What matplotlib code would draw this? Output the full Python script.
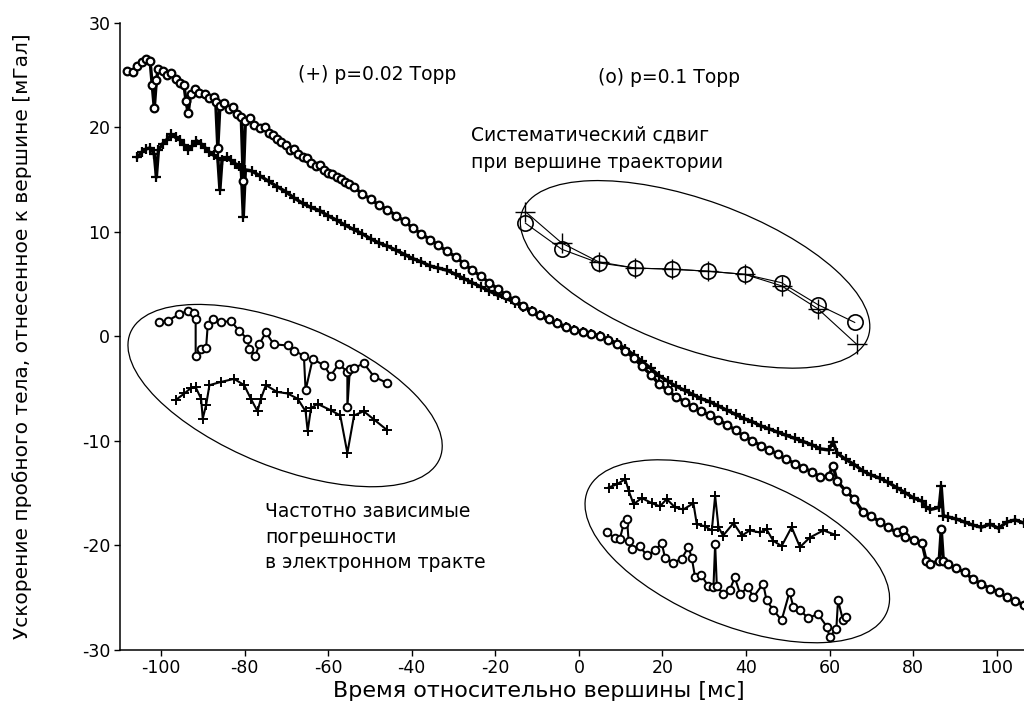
import numpy as np
import matplotlib
matplotlib.use('Agg')
import matplotlib.pyplot as plt
import matplotlib.transforms as mtransforms
from matplotlib.patches import Ellipse

plt.rcParams['font.family'] = ['DejaVu Sans']
plt.rcParams['axes.unicode_minus'] = False

# main curve, p=0.1 Torr (circles)
o_x = [-108.2, -106.7, -105.7, -104.6, -103.6, -102.6, -102.1, -101.6, -101.1, -100.6, -99.6, -98.6, -97.5,
       -96.5, -95.5, -94.5, -94.0, -93.5, -92.9, -91.9, -90.9, -89.4, -88.4, -87.4, -86.9, -86.4, -85.9,
       -84.9, -83.8, -82.8, -81.8, -80.8, -80.3, -79.8, -78.8, -77.7, -76.2, -75.2, -74.2, -73.2, -72.2,
       -71.2, -70.1, -69.1, -68.1, -67.1, -66.1, -65.1, -64.1, -63.0, -62.0, -61.0, -60.0, -59.0, -58.0,
       -56.9, -55.9, -54.9, -53.9, -51.9, -49.8, -47.8, -45.8, -43.7, -41.7, -39.7, -37.7, -35.6, -33.6,
       -31.6, -29.5, -27.5, -25.5, -23.4, -21.4, -19.4, -17.4, -15.3, -13.3, -11.3, -9.2, -7.2, -5.2, -3.2,
       -1.1, 0.9, 2.9, 5.0, 7.0, 9.0, 11.1, 13.1, 15.1, 17.2, 19.2, 21.2, 23.2, 25.3, 27.3, 29.3, 31.4,
       33.4, 35.4, 37.5, 39.5, 41.5, 43.5, 45.6, 47.6, 49.6, 51.7, 53.7, 55.7, 57.8, 59.8, 60.8, 61.8,
       63.8, 65.9, 67.9, 69.9, 72.0, 74.0, 76.0, 77.5, 78.1, 80.1, 82.1, 83.1, 84.1, 86.2, 86.7, 87.2,
       88.2, 90.2, 92.3, 94.3, 96.3, 98.4, 100.4, 102.4, 104.4, 106.5, 108.5]
o_y = [25.4, 25.3, 25.8, 26.2, 26.5, 26.3, 24.0, 21.8, 24.5, 25.6, 25.4, 25.0, 25.2,
       24.6, 24.2, 24.0, 22.5, 21.3, 23.2, 23.6, 23.3, 23.2, 22.8, 22.9, 22.4, 18.0, 22.0,
       22.3, 21.7, 21.9, 21.2, 21.0, 14.8, 20.6, 20.9, 20.2, 19.9, 20.0, 19.4, 19.2, 18.9,
       18.6, 18.3, 17.8, 17.9, 17.4, 17.1, 17.0, 16.6, 16.3, 16.4, 15.9, 15.6, 15.5, 15.2,
       15.0, 14.7, 14.5, 14.3, 13.6, 13.1, 12.5, 12.1, 11.5, 11.0, 10.3, 9.8, 9.2, 8.7,
       8.1, 7.6, 6.9, 6.3, 5.7, 5.1, 4.5, 3.9, 3.4, 2.9, 2.4, 2.0, 1.6, 1.2, 0.9,
       0.6, 0.35, 0.2, 0.0, -0.4, -0.8, -1.4, -2.1, -2.9, -3.7, -4.6, -5.2, -5.8, -6.3, -6.8, -7.2, -7.6,
       -8.0, -8.5, -9.0, -9.6, -10.0, -10.5, -10.9, -11.3, -11.8, -12.2, -12.6, -13.0, -13.5, -13.4, -12.4, -13.9,
       -14.8, -15.6, -16.8, -17.2, -17.8, -18.3, -18.8, -18.6, -19.2, -19.5, -19.8, -21.5, -21.8, -21.5, -18.5, -21.5,
       -21.8, -22.2, -22.6, -23.3, -23.7, -24.2, -24.5, -25.0, -25.4, -25.7, -25.3]

# main curve, p=0.02 Torr (plus)
p_x = [-105.7, -104.6, -103.6, -102.6, -101.6, -101.1, -100.6, -99.6, -98.6, -97.5, -96.5, -95.5, -94.5,
       -93.5, -92.5, -91.5, -90.4, -89.4, -88.4, -87.4, -86.4, -85.9, -85.4, -84.3, -83.3, -82.3, -81.3,
       -80.8, -80.3, -79.8, -78.3, -76.2, -74.2, -72.2, -70.1, -68.1, -66.1, -64.1, -62.0, -60.0, -58.0,
       -55.9, -53.9, -51.9, -49.8, -47.8, -45.8, -43.7, -41.7, -39.7, -37.7, -35.6, -33.6, -31.6, -29.5,
       -27.5, -25.5, -23.4, -21.4, -19.4, -17.4, -15.3, -13.3, -11.3, -9.2, -7.2, -5.2, -3.2, -1.1, 0.9,
       2.9, 5.0, 7.0, 9.0, 11.1, 13.1, 15.1, 17.2, 19.2, 21.2, 23.2, 25.3, 27.3, 29.3, 31.4, 33.4, 35.4,
       37.5, 39.5, 41.5, 43.5, 45.6, 47.6, 49.6, 51.7, 53.7, 55.7, 57.8, 59.8, 60.8, 61.8, 63.8, 65.9,
       67.9, 69.9, 72.0, 74.0, 76.0, 78.1, 80.1, 82.1, 83.1, 84.1, 86.2, 86.7, 87.2, 88.2, 90.2, 92.3,
       94.3, 96.3, 98.4, 100.4, 102.4, 104.4, 106.5, 108.5]
p_y = [17.1, 17.6, 17.9, 18.0, 17.4, 15.2, 17.8, 18.4, 18.8, 19.3, 19.0, 18.8, 18.3,
       17.8, 18.2, 18.7, 18.4, 18.0, 17.6, 17.3, 17.0, 14.0, 16.8, 17.1, 16.8, 16.5, 16.3,
       16.1, 11.4, 15.9, 15.8, 15.3, 14.8, 14.3, 13.8, 13.2, 12.7, 12.3, 12.0, 11.5, 11.1,
       10.6, 10.2, 9.8, 9.3, 8.9, 8.6, 8.2, 7.8, 7.4, 7.1, 6.7, 6.5, 6.3, 5.9,
       5.5, 5.1, 4.7, 4.3, 3.9, 3.6, 3.2, 2.8, 2.4, 2.0, 1.6, 1.2, 0.9, 0.6, 0.35,
       0.2, 0.0, -0.3, -0.7, -1.2, -1.8, -2.4, -3.1, -3.8, -4.3, -4.8, -5.2, -5.6, -6.0, -6.3, -6.7, -7.1,
       -7.5, -7.9, -8.2, -8.6, -8.9, -9.2, -9.5, -9.8, -10.1, -10.4, -10.8, -10.9, -10.1, -11.2, -11.8, -12.3,
       -12.9, -13.3, -13.6, -14.0, -14.5, -15.0, -15.5, -15.8, -16.4, -16.6, -16.4, -14.4, -17.2, -17.3, -17.5, -17.8,
       -18.1, -18.3, -18.0, -18.4, -17.8, -17.6, -17.9, -17.8]

# inset: systematic shift near the apex
apex_o_x = [-12.8, -4.1, 4.7, 13.5, 22.2, 30.9, 39.7, 48.5, 57.2, 66.0]
apex_o_y = [10.8, 8.3, 7.0, 6.5, 6.4, 6.2, 5.9, 5.1, 3.0, 1.3]
apex_p_x = [-12.8, -4.1, 4.7, 13.5, 22.2, 30.9, 39.7, 48.5, 57.2, 66.5]
apex_p_y = [11.9, 8.9, 7.1, 6.5, 6.4, 6.2, 5.9, 4.8, 2.6, -0.8]

# inset: frequency dependent errors (left)
left_o_x = [-100.4, -98.4, -95.6, -93.6, -92.1, -91.7, -91.7, -90.4, -89.2, -88.8, -87.6, -85.7, -83.3,
            -81.3, -79.3, -78.9, -77.4, -76.5, -74.9, -73.0, -69.7, -68.1, -65.8, -65.4, -63.7, -61.0,
            -59.4, -57.5, -55.4, -55.4, -54.8, -53.8, -51.5, -49.0, -45.9]
left_o_y = [1.3, 1.45, 2.1, 2.4, 2.25, 1.6, -1.9, -1.2, -1.1, 1.1, 1.6, 1.3, 1.45,
            0.5, -0.3, -1.2, -1.9, -0.8, 0.35, -0.8, -0.9, -1.4, -1.9, -5.2, -2.2, -2.8,
            -3.8, -2.7, -3.4, -6.8, -3.2, -3.1, -2.6, -3.9, -4.5]
left_p_x = [-96.4, -94.4, -92.9, -91.7, -90.4, -90.0, -89.2, -88.4, -85.7, -82.5, -80.1, -78.5, -76.9,
            -76.1, -74.9, -72.2, -69.7, -67.3, -65.4, -64.9, -64.1, -62.5, -59.4, -57.1, -55.4, -53.8,
            -51.5, -49.0, -45.9]
left_p_y = [-6.1, -5.5, -5.0, -4.9, -6.0, -7.9, -6.6, -4.7, -4.4, -4.1, -4.7, -6.0, -7.2,
            -6.0, -4.7, -5.35, -5.5, -6.0, -7.2, -9.1, -6.9, -6.5, -7.1, -7.6, -11.2, -7.6,
            -7.2, -8.0, -9.0]

# inset: frequency dependent errors (right)
right_o_x = [6.7, 8.6, 9.8, 10.7, 11.5, 11.9, 12.7, 14.6, 16.2, 18.3, 19.8, 20.6, 22.6, 24.6, 26.2, 27.0,
             27.8, 29.3, 30.9, 32.2, 32.6, 33.0, 34.5, 36.1, 37.3, 38.6, 40.5, 41.7, 44.1, 44.9, 46.5,
             48.5, 50.4, 51.3, 52.9, 54.8, 57.2, 59.3, 60.0, 61.6, 62.0, 63.2, 64.0]
right_o_y = [-18.8, -19.3, -19.4, -18.0, -17.5, -19.6, -20.4, -20.1, -21.0, -20.5, -19.8, -21.2, -21.7, -21.3, -20.2, -21.2,
             -23.1, -22.9, -23.9, -24.0, -19.9, -23.9, -24.7, -24.3, -23.1, -24.7, -24.0, -25.0, -23.7, -25.3, -26.2,
             -27.2, -24.5, -25.9, -26.2, -27.0, -26.6, -27.8, -28.8, -28.0, -25.3, -27.2, -26.9]
right_p_x = [7.1, 9.0, 11.1, 11.9, 13.1, 15.0, 17.5, 19.4, 21.0, 23.0, 25.0, 27.4, 28.2, 30.1, 31.8, 32.6,
             33.4, 34.5, 37.0, 39.0, 40.9, 43.3, 44.9, 46.5, 48.5, 50.9, 52.9, 55.2, 58.5, 61.2]
right_p_y = [-14.5, -14.2, -13.7, -14.8, -16.1, -15.5, -16.0, -16.3, -15.6, -16.4, -16.6, -16.0, -18.0, -18.2, -18.6, -15.3,
             -18.3, -19.1, -17.9, -19.1, -18.6, -18.8, -18.5, -19.6, -20.1, -18.3, -20.2, -19.3, -18.6, -19.0]

fig = plt.figure(figsize=(10.24, 7.04), dpi=100)
ax = fig.add_axes([0.1172, 0.0774, 0.8828, 0.8906])

# main curves, drawn heavy like the dense original
ax.plot(p_x, p_y, color='black', lw=2.4, marker='+', ms=7.5, mew=1.6)
ax.plot(o_x, o_y, color='black', lw=2.4, marker='o', ms=5.5, mew=1.6, mfc='white')

# apex inset
ax.plot(apex_p_x, apex_p_y, color='black', lw=0.8, marker='+', ms=14, mew=1.0)
ax.plot(apex_o_x, apex_o_y, color='black', lw=0.8, marker='o', ms=11, mew=1.2, mfc='none')

# error insets
for xs, ys in [(left_o_x, left_o_y), (right_o_x, right_o_y)]:
    ax.plot(xs, ys, color='black', lw=1.5, marker='o', ms=5.5, mew=1.4, mfc='white')
for xs, ys in [(left_p_x, left_p_y), (right_p_x, right_p_y)]:
    ax.plot(xs, ys, color='black', lw=1.5, marker='+', ms=7.5, mew=1.4)

# ellipses: centre in data units, axes in pixels, angle in degrees
ellipses = [(27.8, 5.9, 368, 148, -20), (-70.3, -5.7, 334, 143, -22), (37.9, -20.6, 323, 148, -22)]
for cx, cy, w, h, ang in ellipses:
    tr = mtransforms.ScaledTranslation(cx, cy, ax.transData)
    ax.add_patch(Ellipse((0, 0), w, h, angle=ang, transform=tr, fill=False, lw=0.9, color='black'))

txt = dict(fontsize=13.5, color='black', va='center', ha='left')
ax.text(-67.2, 25.0, '(+) p=0.02 Торр', **txt)
ax.text(4.5, 24.7, '(o) p=0.1 Торр', **txt)
ax.text(-25.9, 19.2, 'Систематический сдвиг', **txt)
ax.text(-25.9, 16.6, 'при вершине траектории', **txt)
ax.text(-75.0, -16.8, 'Частотно зависимые', **txt)
ax.text(-75.0, -19.3, 'погрешности', **txt)
ax.text(-75.0, -21.7, 'в электронном тракте', **txt)

ax.set_xlim(-109.8, 106.5)
ax.set_ylim(-30, 30)
ax.set_xticks([-100, -80, -60, -40, -20, 0, 20, 40, 60, 80, 100])
ax.set_yticks([-30, -20, -10, 0, 10, 20, 30])
ax.tick_params(direction='out', length=4, width=1, labelsize=12.5, pad=3)
for s in ['top', 'right']:
    ax.spines[s].set_visible(False)
for s in ['left', 'bottom']:
    ax.spines[s].set_linewidth(1.1)

ax.set_xlabel('Время относительно вершины [мс]', fontsize=16)
ax.set_ylabel('Ускорение пробного тела, отнесенное к вершине [мГал]', fontsize=14.5)
ax.xaxis.set_label_coords(0.4635, -0.051)
ax.yaxis.set_label_coords(-0.097, 0.5)

fig.savefig('out.png', dpi=100)
